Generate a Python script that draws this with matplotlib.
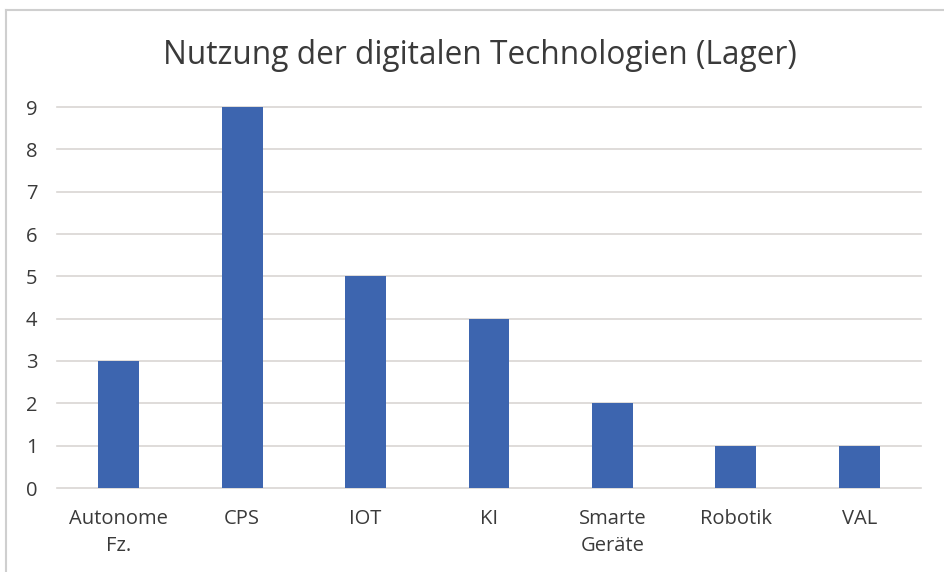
import matplotlib
matplotlib.use("Agg")
import matplotlib.pyplot as plt
from matplotlib.lines import Line2D

categories = ["Autonome\nFz.", "CPS", "IOT", "KI", "Smarte\nGeräte", "Robotik", "VAL"]
values = [3, 9, 5, 4, 2, 1, 1]
y_ticks = list(range(0, 10))

plt.rcParams["font.family"] = ["Open Sans", "DejaVu Sans"]

fig = plt.figure(figsize=(9.45, 5.72), dpi=100)
ax = fig.add_axes([57 / 945, 1 - 488 / 572, 864 / 945, 381 / 572])

x = range(len(categories))
ax.bar(x, values, width=0.33, color="#3D65AF", zorder=3)

ax.set_xlim(-0.5, len(categories) - 0.5)
ax.set_ylim(0, 9)
ax.set_yticks(y_ticks)
ax.set_xticks(list(x))
ax.set_xticklabels(categories, fontsize=14.5, color="#3a3a3a", linespacing=1.5)
ax.tick_params(axis="y", labelsize=14.5, labelcolor="#3a3a3a", length=0, pad=14)
ax.tick_params(axis="x", length=0, pad=15)
for lab in ax.get_yticklabels():
    lab.set_horizontalalignment("right")

ax.yaxis.grid(True, color="#d9d6d3", linewidth=1.2, zorder=0)
ax.set_axisbelow(True)
for s in ax.spines.values():
    s.set_visible(False)
# clip off so the 9 gridline is fully drawn
for gl in ax.get_ygridlines():
    gl.set_clip_on(False)

fig.text(480 / 945, 1 - 56 / 572, "Nutzung der digitalen Technologien (Lager)",
         ha="center", va="center", fontsize=22.8, color="#3a3a3a")

# chart border (left and top edges visible)
fig.add_artist(Line2D([6.5 / 945, 6.5 / 945], [0, 1 - 10 / 572],
                      color="#cfcfcf", linewidth=1.5, transform=fig.transFigure))
fig.add_artist(Line2D([6.5 / 945, 1], [1 - 10 / 572, 1 - 10 / 572],
                      color="#cfcfcf", linewidth=1.5, transform=fig.transFigure))

fig.savefig("out.png", dpi=100)
